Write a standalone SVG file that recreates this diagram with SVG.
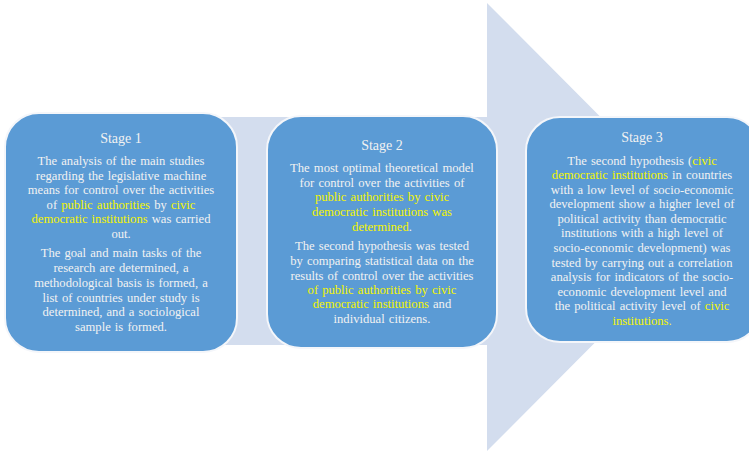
<svg xmlns="http://www.w3.org/2000/svg" width="749" height="451" viewBox="0 0 749 451">
<style>
.box{fill:#5b9bd5;stroke:#f4f6fa;stroke-width:2}
.t{font-family:"Liberation Serif",serif;font-size:12.6px;word-spacing:1px;fill:#f2f2f2;text-anchor:middle}
.h{font-family:"Liberation Serif",serif;font-size:14px;fill:#f2f2f2;text-anchor:middle}
.y{fill:#f5f500}
</style>
<rect width="749" height="451" fill="#ffffff"/>
<g id="arrow">
<polygon points="60,117 487,117 487,3 710,227 487,451 487,345 60,345" fill="#d3ddee"/>
</g>
<g id="stage1">
<rect class="box" x="5" y="113" width="232" height="239" rx="34"/>
<text class="h" x="121" y="143">Stage 1</text>
<text class="t" x="121" y="165">The analysis of the main studies</text>
<text class="t" x="121" y="180">regarding the legislative machine</text>
<text class="t" x="121" y="194">means for control over the activities</text>
<text class="t" x="121" y="209">of <tspan class="y">public authorities</tspan> by <tspan class="y">civic</tspan></text>
<text class="t" x="121" y="223"><tspan class="y">democratic  institutions</tspan> was carried</text>
<text class="t" x="121" y="238">out.</text>
<text class="t" x="121" y="257">The goal and main tasks of the</text>
<text class="t" x="121" y="272">research  are  determined, a</text>
<text class="t" x="121" y="287">methodological basis is formed, a</text>
<text class="t" x="121" y="302">list of countries under study is</text>
<text class="t" x="121" y="316">determined, and a sociological</text>
<text class="t" x="121" y="331">sample is  formed.</text>
</g>
<g id="stage2">
<rect class="box" x="267" y="116" width="230" height="232" rx="34"/>
<text class="h" x="382" y="150">Stage 2</text>
<text class="t" x="382" y="172">The most optimal theoretical  model</text>
<text class="t" x="382" y="187">for control  over the activities  of</text>
<text class="t" x="382" y="201"><tspan class="y">public authorities  by civic</tspan></text>
<text class="t" x="382" y="216"><tspan class="y">democratic  institutions was</tspan></text>
<text class="t" x="382" y="231"><tspan class="y">determined</tspan>.</text>
<text class="t" x="382" y="250">The second hypothesis was tested</text>
<text class="t" x="382" y="265">by comparing statistical  data on the</text>
<text class="t" x="382" y="280">results of control  over the activities</text>
<text class="t" x="382" y="294"><tspan class="y">of public authorities by civic</tspan></text>
<text class="t" x="382" y="308"><tspan class="y">democratic  institutions</tspan> and</text>
<text class="t" x="382" y="323">individual citizens.</text>
</g>
<g id="stage3">
<rect class="box" x="526" y="117" width="235" height="225" rx="34"/>
<text class="h" x="642" y="142">Stage 3</text>
<text class="t" x="642" y="165">The  second  hypothesis  (<tspan class="y">civic</tspan></text>
<text class="t" x="642" y="179"><tspan class="y">democratic  institutions</tspan> in countries</text>
<text class="t" x="642" y="194">with a low level  of socio-economic</text>
<text class="t" x="642" y="208">development  show a higher level  of</text>
<text class="t" x="642" y="223">political  activity  than democratic</text>
<text class="t" x="642" y="237">institutions with a high level  of</text>
<text class="t" x="642" y="252">socio-economic  development) was</text>
<text class="t" x="642" y="267">tested  by carrying  out a correlation</text>
<text class="t" x="642" y="281">analysis  for indicators  of the socio-</text>
<text class="t" x="642" y="296">economic  development level  and</text>
<text class="t" x="642" y="310">the political  activity  level of <tspan class="y">civic</tspan></text>
<text class="t" x="642" y="325"><tspan class="y">institutions.</tspan></text>
</g>
</svg>
